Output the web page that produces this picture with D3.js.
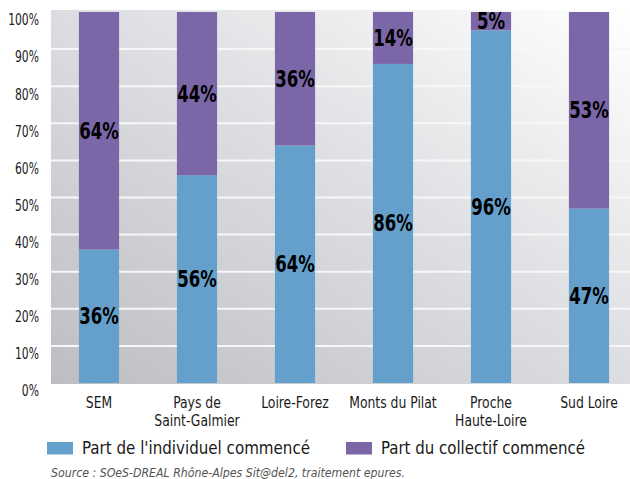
<!DOCTYPE html>
<html><head><meta charset="utf-8">
<script src="https://cdn.jsdelivr.net/npm/d3@7"></script>
<style>
body{margin:0;background:#fff;}
svg{display:block;}
text{font-family:"DejaVu Sans Condensed","Liberation Sans Narrow",sans-serif;}
</style></head>
<body>
<svg id="c" width="630" height="479"></svg>
<script>
const categories = [["SEM"], ["Pays de","Saint-Galmier"], ["Loire-Forez"], ["Monts du Pilat"], ["Proche","Haute-Loire"], ["Sud Loire"]];
const individuel = [36, 56, 64, 86, 96, 47];
const collectif = [64, 44, 36, 14, 5, 53];
const yTicks = [0, 10, 20, 30, 40, 50, 60, 70, 80, 90, 100];
const seriesNames = ["Part de l'individuel commencé", "Part du collectif commencé"];
const source = "Source : SOeS-DREAL Rhône-Alpes Sit@del2, traitement epures.";

const colors = ["#64a0cb", "#7b67a8"];
const svg = d3.select("#c");
const plot = {x0: 51, x1: 630, y0: 10, y1: 384};

function condense(sel, k) {
  sel.each(function() {
    const w = this.getComputedTextLength();
    d3.select(this).attr("textLength", w * k).attr("lengthAdjust", "spacingAndGlyphs");
  });
}

const defs = svg.append("defs");
const grad = defs.append("linearGradient").attr("id","bg")
  .attr("x1","0%").attr("y1","100%").attr("x2","100%").attr("y2","0%");
grad.append("stop").attr("offset","0%").attr("stop-color","#bdbec2");
grad.append("stop").attr("offset","55%").attr("stop-color","#dfe0e3");
grad.append("stop").attr("offset","100%").attr("stop-color","#ffffff");

svg.append("rect").attr("x",plot.x0).attr("y",plot.y0)
  .attr("width",plot.x1-plot.x0).attr("height",plot.y1-plot.y0)
  .attr("fill","url(#bg)");

const x = d3.scaleBand().domain(d3.range(categories.length)).range([50, 638]).paddingInner(0.59).paddingOuter(0.295);
const y = d3.scaleLinear().domain([0, 100]).range([383, 12]);

// gridlines
svg.append("g").selectAll("line").data(yTicks.filter(t => t > 0 && t < 100)).join("line")
  .attr("x1", plot.x0).attr("x2", plot.x1)
  .attr("y1", d => y(d)).attr("y2", d => y(d))
  .attr("stroke", "#f7f7f8").attr("stroke-width", 2);

// y axis labels
const yAxis = d3.axisLeft(y).tickValues(yTicks).tickFormat(d => d + "%").tickSize(0).tickPadding(0);
const ya = svg.append("g").attr("transform","translate(39,8)").call(yAxis);
ya.select(".domain").remove();
ya.selectAll("text").attr("font-size", 15).attr("fill","#1a1a1a")
  .attr("font-family", '"DejaVu Sans Condensed","Liberation Sans Narrow",sans-serif');
condense(ya.selectAll("text"), 0.8);

// stacked normalized data
const data = categories.map((c, i) => {
  const tot = individuel[i] + collectif[i];
  return {i, vals: [individuel[i], collectif[i]], pct: [individuel[i]/tot*100, collectif[i]/tot*100]};
});

const g = svg.append("g");
data.forEach(d => {
  let base = 0;
  d.pct.forEach((p, s) => {
    g.append("rect")
      .attr("x", x(d.i)).attr("width", x.bandwidth())
      .attr("y", y(base + p)).attr("height", y(base) - y(base + p))
      .attr("fill", colors[s]);
    base += p;
  });
});
const labs = g.append("g");
data.forEach(d => {
  let base = 0;
  d.pct.forEach((p, s) => {
    labs.append("text")
      .attr("x", x(d.i) + x.bandwidth()/2)
      .attr("y", y(base + p/2) + 8)
      .attr("text-anchor","middle")
      .attr("font-size", 23).attr("font-weight","bold").attr("fill","#000")
      .text(d.vals[s] + "%");
    base += p;
  });
});
condense(labs.selectAll("text"), 0.8);

// x labels
const xl = svg.append("g");
categories.forEach((lines, i) => {
  lines.forEach((ln, k) => {
    xl.append("text").attr("text-anchor","middle")
      .attr("x", x(i) + x.bandwidth()/2).attr("y", 408 + k * 17.5)
      .attr("font-size", 16).attr("fill","#1a1a1a")
      .text(ln);
  });
});
condense(xl.selectAll("text"), 0.86);

// legend
const legX = [47, 346];
const legW = [228, 204];
seriesNames.forEach((n, s) => {
  svg.append("rect").attr("x", legX[s]).attr("y", 442).attr("width", 26).attr("height", 12.5).attr("fill", colors[s]);
  svg.append("text").attr("x", legX[s] + 35).attr("y", 454)
    .attr("font-size", 17).attr("fill","#1a1a1a")
    .attr("font-family",'"Open Sans","DejaVu Sans","Liberation Sans",sans-serif')
    .attr("textLength", legW[s]).attr("lengthAdjust","spacingAndGlyphs")
    .text(n);
});

// source
svg.append("text").attr("x", 51).attr("y", 477)
  .attr("font-size", 12.5).attr("font-style","italic").attr("fill","#555")
  .attr("font-family",'"Open Sans","DejaVu Sans",sans-serif')
  .attr("textLength", 354).attr("lengthAdjust","spacingAndGlyphs")
  .text(source);
</script>
</body></html>
